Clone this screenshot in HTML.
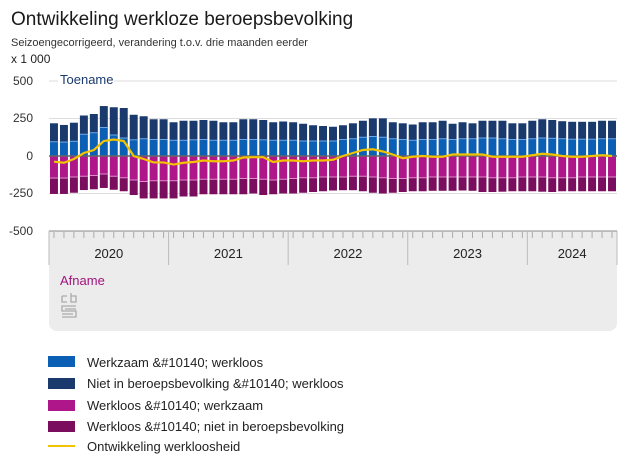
<!DOCTYPE html>
<html><head><meta charset="utf-8"><style>
body{margin:0;width:627px;height:470px;background:#fff;font-family:"Liberation Sans",sans-serif;overflow:hidden}
</style></head><body>
<svg id="s" width="627" height="470" xmlns="http://www.w3.org/2000/svg" font-family="Liberation Sans, sans-serif">
<text x="11" y="25" font-size="19" fill="#1a1a1a">Ontwikkeling werkloze beroepsbevolking</text>
<text x="11" y="46" font-size="11" fill="#333">Seizoengecorrigeerd, verandering t.o.v. drie maanden eerder</text>
<text x="11" y="63" font-size="12" fill="#222">x 1 000</text>
<line x1="49" y1="81" x2="617" y2="81" stroke="#ddd"/>
<line x1="49" y1="118.5" x2="617" y2="118.5" stroke="#ddd"/>
<line x1="49" y1="193.5" x2="617" y2="193.5" stroke="#ddd"/>
<text x="33" y="85" font-size="12" text-anchor="end" fill="#333">500</text>
<text x="33" y="122" font-size="12" text-anchor="end" fill="#333">250</text>
<text x="33" y="160" font-size="12" text-anchor="end" fill="#333">0</text>
<text x="33" y="197" font-size="12" text-anchor="end" fill="#333">-250</text>
<text x="33" y="235" font-size="12" text-anchor="end" fill="#333">-500</text>
<rect x="58" y="72" width="56" height="15" fill="#fff"/>
<text x="60" y="84" font-size="13" fill="#1a3a6e">Toename</text>
<path d="M49 231 H617 V323 a8 8 0 0 1 -8 8 H57 a8 8 0 0 1 -8 -8 Z" fill="#ececec"/>
<line x1="49" y1="231" x2="617" y2="231" stroke="#888"/>
<g id="g"></g>
<text x="60" y="285" font-size="13" fill="#a0147e">Afname</text>
<g fill="none" stroke="#aaa" stroke-width="1.3">
<path d="M62 296 h5 M62 296 v6 h5 M71 293 v9 h5 v-6 h-5"/>
<path d="M76 306 h-14 v5 h14 v6 h-14 M76 309 h-11 M62 314 h11"/>
</g>
<g font-size="13" fill="#222">
<rect x="48" y="356" width="27" height="11" fill="#0b5fb5"/><text x="87" y="367">Werkzaam &amp;#10140; werkloos</text>
<rect x="48" y="378" width="27" height="11" fill="#1a3a6e"/><text x="87" y="388">Niet in beroepsbevolking &amp;#10140; werkloos</text>
<rect x="48" y="400" width="27" height="11" fill="#ae168a"/><text x="87" y="410">Werkloos &amp;#10140; werkzaam</text>
<rect x="48" y="421" width="27" height="11" fill="#7a0d5e"/><text x="87" y="431">Werkloos &amp;#10140; niet in beroepsbevolking</text>
<line x1="48" y1="446" x2="75" y2="446" stroke="#f2c300" stroke-width="2"/><text x="87" y="451">Ontwikkeling werkloosheid</text>
</g>
</svg>
<script>
var top_=[218,207,222,270,280,333,325,320,275,265,245,245, 225,235,235,240,235,225,225,245,245,240,225,230, 225,215,205,200,195,205,218,235,251,251,225,218, 210,225,225,235,215,225,218,235,235,235,218,218, 235,245,240,232,228,228,228,235,235];
var blue=[95,93,98,145,155,190,140,120,108,115,110,110, 105,105,108,110,105,105,105,110,110,108,105,105, 105,100,100,100,100,110,115,125,130,125,115,110, 105,110,110,115,110,115,115,120,120,115,110,110, 115,120,118,115,112,112,112,115,115];
var bound=[-147,-147,-140,-135,-130,-120,-135,-145,-160,-170,-165,-165, -165,-160,-160,-155,-155,-155,-155,-150,-150,-155,-160,-155, -150,-145,-145,-140,-140,-140,-135,-135,-140,-145,-150,-150, -145,-145,-140,-140,-140,-140,-140,-140,-145,-145,-145,-140, -140,-140,-145,-145,-145,-140,-140,-140,-140];
var bot=[-253,-253,-245,-227,-222,-213,-225,-235,-260,-283,-283,-283, -283,-270,-270,-255,-255,-255,-255,-255,-250,-260,-255,-250, -250,-245,-240,-235,-230,-228,-228,-235,-245,-250,-245,-240, -235,-235,-232,-232,-232,-230,-232,-240,-240,-238,-235,-235, -235,-238,-240,-235,-235,-235,-235,-235,-235];
var line=[-38,-45,-20,20,40,100,110,100,0,-20,-43,-43, -57,-45,-40,-30,-35,-35,-30,-10,-8,-8,-40,-30, -30,-35,-30,-30,-25,0,20,40,45,30,10,-15, -5,0,-5,-5,10,10,10,10,-5,-5,-5,-5, 5,15,10,0,-5,-5,0,5,0];
var Y=v=>156-v*0.15, w=9.965, x0=49, h='';
for(var i=0;i<57;i++){var x=x0+i*w+1;var bw=w-2;
h+=`<rect x="${x}" y="${Y(top_[i])}" width="${bw}" height="${Y(blue[i])-Y(top_[i])}" fill="#1a3a6e"/>`;
h+=`<rect x="${x}" y="${Y(blue[i])}" width="${bw}" height="${156-Y(blue[i])}" fill="#0b5fb5"/>`;
h+=`<line x1="${x}" y1="${Y(blue[i])}" x2="${x+bw}" y2="${Y(blue[i])}" stroke="#6fa8e8" stroke-width="1"/>`;
h+=`<rect x="${x}" y="156" width="${bw}" height="${Y(bound[i])-156}" fill="#ae168a"/>`;
h+=`<rect x="${x}" y="${Y(bound[i])}" width="${bw}" height="${Y(bot[i])-Y(bound[i])}" fill="#7a0d5e"/>`;
h+=`<line x1="${x}" y1="${Y(bound[i])}" x2="${x+bw}" y2="${Y(bound[i])}" stroke="#e08ccb" stroke-width="1"/>`;
h+=`<line x1="${x0+i*w+w/2}" y1="232" x2="${x0+i*w+w/2}" y2="238" stroke="#aaa"/>`;}
h+='<line x1="49" y1="156" x2="617" y2="156" stroke="#666" stroke-width="1.5"/>';
var p='';for(var i=0;i<57;i++)p+=(i?'L':'M')+(x0+i*w+w/2)+' '+Y(line[i]);
h+=`<path d="${p}" fill="none" stroke="#f2c300" stroke-width="2.2"/>`;
var ys=['2020','2021','2022','2023','2024'];
for(var k=0;k<5;k++){var xs=x0+k*12*w;var xe=Math.min(x0+(k+1)*12*w,617);
if(k>0)h+=`<line x1="${xs}" y1="231" x2="${xs}" y2="265" stroke="#bbb"/>`;
h+=`<text x="${(xs+xe)/2}" y="258" font-size="13" text-anchor="middle" fill="#222">${ys[k]}</text>`;}
h+='<line x1="49" y1="231" x2="49" y2="265" stroke="#bbb"/><line x1="617" y1="231" x2="617" y2="265" stroke="#bbb"/>';
document.getElementById('g').innerHTML=h;
</script>
</body></html>
